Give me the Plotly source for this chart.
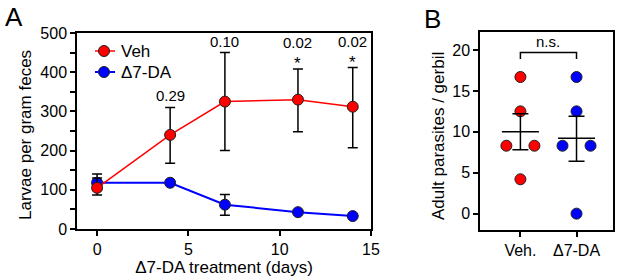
import plotly.graph_objects as go

# ---- Panel A data ----
days = [0, 4, 7, 11, 14]
veh_mean = [105, 240, 325, 330, 312]
veh_err_plus = [25, 70, 125, 78, 100]
veh_err_minus = [18, 72, 125, 82, 105]
da_mean = [118, 118, 62, 43, 33]
da_err_plus = [22, 0, 26, 0, 0]
da_err_minus = [20, 0, 27, 0, 0]
p_labels = ["", "0.29", "0.10", "0.02", "0.02"]
p_y = [0, 310, 450, 408, 411]
stars = ["", "", "", "*", "*"]
series_names = ["Veh", "Δ7-DA"]
series_colors = ["#ff0000", "#0000ff"]

# ---- Panel B data ----
groups = ["Veh.", "Δ7-DA"]
veh_pts = [16.7, 12.5, 8.3, 8.3, 4.2]
da_pts = [16.7, 12.5, 8.3, 8.3, 0.0]
veh_offsets = [0, 0, -0.25, 0.25, 0]
da_offsets = [0, 0, -0.25, 0.25, 0]
grp_mean = [10.0, 9.2]
grp_upper = [12.2, 11.9]
grp_lower = [7.8, 6.4]

FONT = "Liberation Sans, Arial, Helvetica, sans-serif"
W, H = 617, 280

fig = go.Figure()

MK = dict(size=11, line=dict(color="#202020", width=1))

# Panel A traces
fig.add_trace(go.Scatter(
    x=days, y=da_mean, mode="lines+markers", name=series_names[1],
    line=dict(color=series_colors[1], width=2),
    marker=dict(color=series_colors[1], **MK),
    error_y=dict(type="data", array=da_err_plus, arrayminus=da_err_minus,
                 color="black", thickness=1.5, width=5),
    xaxis="x", yaxis="y", showlegend=False))
fig.add_trace(go.Scatter(
    x=days, y=veh_mean, mode="lines+markers", name=series_names[0],
    line=dict(color=series_colors[0], width=1.5),
    marker=dict(color=series_colors[0], **MK),
    error_y=dict(type="data", array=veh_err_plus, arrayminus=veh_err_minus,
                 color="black", thickness=1.5, width=5),
    xaxis="x", yaxis="y", showlegend=False))

# p-value annotations
for d, lab, yy, st in zip(days, p_labels, p_y, stars):
    if lab:
        fig.add_annotation(x=d, y=yy, text=lab, xref="x", yref="y",
                           showarrow=False, yanchor="bottom",
                           yshift=16 if st else 1,
                           font=dict(size=15, color="black", family=FONT))
    if st:
        fig.add_annotation(x=d, y=yy, text=st, xref="x", yref="y",
                           showarrow=False, yanchor="bottom", yshift=-6,
                           font=dict(size=17, color="black", family=FONT))

# Manual legend (compact row spacing like the original)
leg_x0, leg_y0, leg_dy = 95, 51, 21
for k, (nm, col) in enumerate(zip(series_names, series_colors)):
    cy = leg_y0 + k * leg_dy
    fig.add_shape(type="line", xref="paper", yref="paper",
                  x0=leg_x0 / W, x1=(leg_x0 + 20) / W,
                  y0=1 - cy / H, y1=1 - cy / H,
                  line=dict(color=col, width=2 if k else 1.5))
    fig.add_shape(type="circle", xref="paper", yref="paper",
                  x0=(leg_x0 + 9 - 5.5) / W, x1=(leg_x0 + 9 + 5.5) / W,
                  y0=1 - (cy + 5.5) / H, y1=1 - (cy - 5.5) / H,
                  fillcolor=col, line=dict(color="#202020", width=1))
    fig.add_annotation(x=(leg_x0 + 24) / W, y=1 - cy / H, xref="paper", yref="paper",
                       text=nm, showarrow=False, xanchor="left", yanchor="middle",
                       font=dict(size=17, color="black", family=FONT))

# Panel B points
fig.add_trace(go.Scatter(
    x=[0 + o for o in veh_offsets], y=veh_pts, mode="markers", showlegend=False,
    marker=dict(color=series_colors[0], **MK),
    xaxis="x2", yaxis="y2"))
fig.add_trace(go.Scatter(
    x=[1 + o for o in da_offsets], y=da_pts, mode="markers", showlegend=False,
    marker=dict(color=series_colors[1], **MK),
    xaxis="x2", yaxis="y2"))

# mean lines and SEM bars
for i in range(2):
    fig.add_trace(go.Scatter(
        x=[i - 0.33, i + 0.33], y=[grp_mean[i], grp_mean[i]], mode="lines",
        line=dict(color="black", width=1.5), showlegend=False,
        xaxis="x2", yaxis="y2", hoverinfo="skip"))
    fig.add_trace(go.Scatter(
        x=[i], y=[grp_mean[i]], mode="markers", showlegend=False,
        marker=dict(size=1, color="rgba(0,0,0,0)"),
        error_y=dict(type="data", array=[grp_upper[i] - grp_mean[i]],
                     arrayminus=[grp_mean[i] - grp_lower[i]],
                     color="black", thickness=1.5, width=8),
        xaxis="x2", yaxis="y2", hoverinfo="skip"))

# n.s. bracket
fig.add_trace(go.Scatter(
    x=[0, 0, 1, 1], y=[18.9, 19.7, 19.7, 18.9], mode="lines",
    line=dict(color="black", width=1.5), showlegend=False,
    xaxis="x2", yaxis="y2", hoverinfo="skip"))
fig.add_annotation(x=0.5, y=19.7, text="n.s.", xref="x2", yref="y2",
                   showarrow=False, yanchor="bottom", yshift=0,
                   font=dict(size=15, color="black", family=FONT))

# Panel labels
fig.add_annotation(x=3 / W, y=1 - 0 / H, xref="paper", yref="paper", text="A",
                   showarrow=False, xanchor="left", yanchor="top",
                   font=dict(size=26, color="black", family=FONT))
fig.add_annotation(x=422 / W, y=1 - 2 / H, xref="paper", yref="paper", text="B",
                   showarrow=False, xanchor="left", yanchor="top",
                   font=dict(size=26, color="black", family=FONT))

# Y-axis titles as rotated text
fig.add_annotation(x=25 / W, y=1 - 135 / H, xref="paper", yref="paper",
                   text="Larvae per gram feces", textangle=-90, showarrow=False,
                   xanchor="center", yanchor="middle",
                   font=dict(size=17, color="black", family=FONT))
fig.add_annotation(x=438 / W, y=1 - 136 / H, xref="paper", yref="paper",
                   text="Adult parasites / gerbil", textangle=-90, showarrow=False,
                   xanchor="center", yanchor="middle",
                   font=dict(size=17, color="black", family=FONT))

axis_common = dict(showline=True, linecolor="black", linewidth=1.5, mirror=True,
                   ticks="outside", tickcolor="black", tickwidth=1.5, ticklen=5,
                   showgrid=False, zeroline=False, automargin=False,
                   tickfont=dict(size=16, color="black", family=FONT))

fig.update_layout(
    width=W, height=H,
    margin=dict(l=0, r=0, t=0, b=0),
    paper_bgcolor="white", plot_bgcolor="white",
    font=dict(family=FONT, color="black"),
    showlegend=False,
    xaxis=dict(domain=[77 / W, 371 / W], range=[-1.1, 15], tickvals=[0, 5, 10, 15],
               title=dict(text="Δ7-DA treatment (days)", font=dict(size=17), standoff=4),
               anchor="y", **axis_common),
    yaxis=dict(domain=[1 - 229 / H, 1 - 33 / H], range=[0, 500],
               tickvals=[0, 100, 200, 300, 400, 500],
               minor=dict(tickvals=[50, 150, 250, 350, 450], ticks="outside",
                          ticklen=5, tickwidth=1.5, tickcolor="black"),
               anchor="x", **axis_common),
    xaxis2=dict(domain=[480 / W, 613 / W], range=[-0.72, 1.65],
                tickvals=[0, 1], ticktext=groups,
                anchor="y2", **axis_common),
    yaxis2=dict(domain=[1 - 230 / H, 1 - 32 / H], range=[-2, 22.2],
                tickvals=[0, 5, 10, 15, 20],
                anchor="x2", **axis_common),
)

fig.write_html("out.html", config={"displayModeBar": False},
               post_script="document.body.style.margin='0';document.body.style.overflow='hidden';")
